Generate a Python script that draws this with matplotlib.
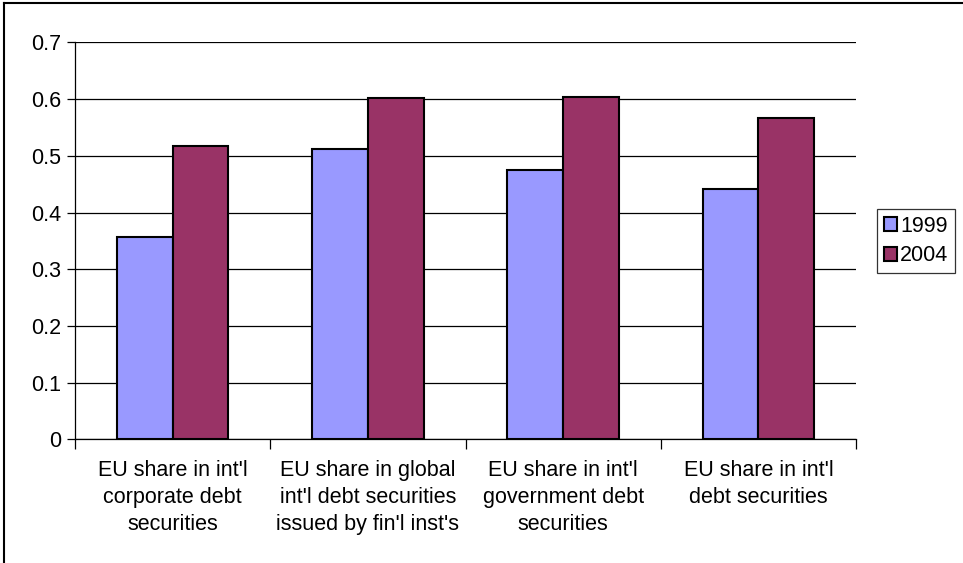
import numpy as np
import matplotlib
matplotlib.use("Agg")
import matplotlib.pyplot as plt
from matplotlib.lines import Line2D

# datos del grafico
categorias = [
    "EU share in int'l\ncorporate debt\nsecurities",
    "EU share in global\nint'l debt securities\nissued by fin'l inst's",
    "EU share in int'l\ngovernment debt\nsecurities",
    "EU share in int'l\ndebt securities",
]
valores_1999 = [0.357, 0.512, 0.475, 0.441]
valores_2004 = [0.518, 0.602, 0.604, 0.567]
series = ["1999", "2004"]
colores = ["#9999FF", "#993366"]
yticks = [0, 0.1, 0.2, 0.3, 0.4, 0.5, 0.6, 0.7]

plt.rcParams["font.family"] = ["Liberation Sans", "DejaVu Sans"]

fig = plt.figure(figsize=(9.63, 5.63), dpi=100)
ax = fig.add_axes([0.0779, 0.2194, 0.811, 0.7055])

x = np.arange(len(categorias))
ancho = 1 / 3.5
ax.bar(x - ancho / 2, valores_1999, ancho, color=colores[0], edgecolor="black",
       linewidth=1.5, label=series[0], zorder=3)
ax.bar(x + ancho / 2, valores_2004, ancho, color=colores[1], edgecolor="black",
       linewidth=1.5, label=series[1], zorder=3)

ax.set_xlim(-0.5, len(categorias) - 0.5)
ax.set_ylim(0, 0.7)
ax.set_yticks(yticks)
ax.set_yticklabels(["0" if v == 0 else f"{v:.1f}" for v in yticks], fontsize=15.5)
ax.yaxis.grid(True, color="black", linewidth=0.9, zorder=0)
ax.tick_params(axis="y", length=6, width=0.9, pad=4)

# ticks del eje x en los limites de categoria
ax.set_xticks(np.arange(len(categorias) + 1) - 0.5)
ax.set_xticklabels([])
ax.set_xticks(x, minor=True)
ax.set_xticklabels(categorias, minor=True, fontsize=15.5, linespacing=1.36)
ax.tick_params(axis="x", which="major", length=7, width=0.9)
ax.tick_params(axis="x", which="minor", length=0, pad=15)

for lado in ["top", "right"]:
    ax.spines[lado].set_visible(False)
ax.spines["left"].set_linewidth(0.9)
ax.spines["bottom"].set_linewidth(0.9)

leg = ax.legend(loc="center left", fontsize=15.5, frameon=True, fancybox=False,
                handlelength=0.6, handleheight=0.6, handletextpad=0.15,
                borderpad=0.3, labelspacing=0.4, borderaxespad=0)
leg.get_frame().set_edgecolor("black")
leg.get_frame().set_linewidth(0.9)
leg.set_bbox_to_anchor((0.911, 0.572), transform=fig.transFigure)

# borde exterior del area del grafico
fig.add_artist(Line2D([0.004, 0.004], [0, 0.995], transform=fig.transFigure,
                      color="black", linewidth=1.5))
fig.add_artist(Line2D([0.004, 1], [0.995, 0.995], transform=fig.transFigure,
                      color="black", linewidth=1.5))

fig.savefig("out.png", dpi=100)
